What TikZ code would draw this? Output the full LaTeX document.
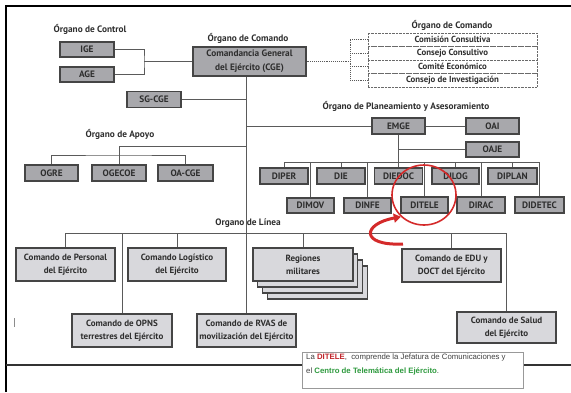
\documentclass[tikz,border=0pt]{standalone}
\usepackage{fontspec}
\setmainfont{PT Sans}
\newfontfamily\notef{Liberation Sans}
\usetikzlibrary{shapes.geometric,arrows.meta,calc}
\definecolor{boxgray}{HTML}{A8A8AC}
\definecolor{lightbox}{HTML}{D8D8DC}
\definecolor{edge}{HTML}{454545}
\definecolor{txt}{HTML}{2E2E2E}
\definecolor{wire}{HTML}{5A5A5A}
\definecolor{redmark}{HTML}{D42A2A}
\definecolor{notered}{HTML}{C0242A}
\definecolor{notegreen}{HTML}{2E9A3E}
\begin{document}
\begin{tikzpicture}[x=1pt,y=-1pt,
  gbox/.style={draw=edge, line width=1.1pt, fill=boxgray, inner sep=0pt, text=txt,
    font=\bfseries\fontsize{9.3}{10}\selectfont},
  sbox/.style={gbox, minimum width=54pt, minimum height=16pt},
  dirbox/.style={gbox, minimum width=48pt, minimum height=16pt},
  lbox/.style={draw=edge, line width=1.1pt, fill=lightbox, inner sep=0pt, align=center,
    minimum width=99pt, minimum height=33pt, text=txt,
    font=\bfseries\fontsize{9}{13}\selectfont},
  dbox/.style={draw=edge!80, densely dotted, fill=white, inner sep=0pt, minimum width=169pt,
    minimum height=13.5pt, text=txt, font=\bfseries\fontsize{8.8}{9}\selectfont},
  title/.style={font=\bfseries\fontsize{9.3}{11}\selectfont, text=txt},
  wire/.style={draw=wire, line width=0.9pt},
  dwire/.style={draw=wire, line width=0.9pt, densely dotted}]
\useasboundingbox (0,0) rectangle (571,392);
% frame
\draw[black, line width=2pt] (6,392) -- (6,6) -- (571,6);
\draw[black!80, line width=1.2pt] (6,365) -- (571,365);
\draw[black!45, line width=0.6pt] (14,318) -- (14,327);

% titles
\node[title] (tctl) at (90,29) {Órgano de Control};
\node[title] (tcmd) at (248,38) {Órgano de Comando};
\node[title] (tcmd2) at (452,25) {Órgano de Comando};
\node[title] (tplan) at (406,106) {Órgano de Planeamiento y Asesoramiento};
\node[title] (tapo) at (120,134) {Órgano de Apoyo};
\node[title] (tlin) at (248,223) {Organo de Línea};

% command
\node[gbox, minimum width=113pt, minimum height=29pt, align=center,
  font=\bfseries\fontsize{9.3}{14}\selectfont] (cge) at (249.5,61.5) {Comandancia General\\del Ejército (CGE)};
\node[sbox, minimum height=15pt] (ige) at (87,49.5) {IGE};
\node[sbox, minimum height=15pt] (age) at (87,74.5) {AGE};
\node[sbox] (sgcge) at (154,99.5) {SG-CGE};

\node[dbox] (d1) at (452.5,39.75) {Comisión Consultiva};
\node[dbox] (d2) at (452.5,53.25) {Consejo Consultivo};
\node[dbox] (d3) at (452.5,66.75) {Comité Económico};
\node[dbox] (d4) at (452.5,80.25) {Consejo de Investigación};

% apoyo
\node[sbox, minimum width=53pt] (ogre) at (51.5,173) {OGRE};
\node[sbox] (ogecoe) at (119,173) {OGECOE};
\node[sbox, minimum width=55pt] (oacge) at (185.5,173) {OA-CGE};

% planeamiento
\node[sbox, minimum width=53pt] (emge) at (398.5,126) {EMGE};
\node[sbox, minimum width=53pt] (oai) at (492.5,126) {OAI};
\node[sbox, minimum width=53pt, minimum height=15pt] (oaje) at (492.5,149.5) {OAJE};
\node[dirbox] (diper) at (284,176) {DIPER};
\node[dirbox] (die) at (341,176) {DIE};
\node[dirbox] (diedoc) at (398.5,176) {DIEDOC};
\node[dirbox, minimum width=47pt] (dilog) at (455.5,176) {DILOG};
\node[dirbox, minimum width=49pt] (diplan) at (512.5,176) {DIPLAN};
\node[dirbox, minimum width=47pt, minimum height=15pt] (dimov) at (310.5,205.5) {DIMOV};
\node[dirbox, minimum width=47pt, minimum height=15pt] (dinfe) at (367.5,205.5) {DINFE};
\node[dirbox, minimum width=47pt] (ditele) at (424.5,205) {DITELE};
\node[dirbox] (dirac) at (481,205) {DIRAC};
\node[dirbox, minimum width=49pt] (didetec) at (539.5,205) {DIDETEC};

% linea
\node[lbox] (personal) at (65.5,264.5) {Comando de Personal\\del Ejército};
\node[lbox, minimum width=98pt] (logistico) at (177,264.5) {Comando Logístico\\del Ejército};
\foreach \d in {3,2,1}
  \draw[draw=edge, fill=lightbox, line width=1.1pt] ({253+\d*4.7},{248+\d*6}) rectangle +(100,33);
\node[lbox, minimum width=100pt] (regiones) at (303,264.5) {Regiones\\militares};
\node[lbox] (edu) at (451.5,265.5) {Comando de EDU y\\DOCT del Ejército};
\node[lbox, minimum width=100pt] (opns) at (122,330.5) {Comando de OPNS\\terrestres del Ejército};
\node[lbox] (rvas) at (246.5,330.5) {Comando de RVAS de\\movilización del Ejército};
\node[lbox, minimum height=31pt] (salud) at (506.5,327.5) {Comando de Salud\\del Ejército};

% connectors: control
\coordinate (cj) at (144,61.5);
\draw[wire] (ige.east) -| (cj) |- (age.east);
\draw[wire] (cj) -- (cge.west);
% trunk
\draw[wire] (cge.south -| rvas.north) -- (rvas.north);
\draw[wire] (sgcge.east) -- (sgcge.east -| rvas.north);
\draw[wire] (emge.west) -- (emge.west -| rvas.north);
% apoyo
\coordinate (apy) at (246.5,146);
\coordinate (apb) at (119,155);
\draw[wire] (apy) -| (ogecoe.north);
\draw[wire] (ogre.north) |- (apb) -| (oacge.north);
% planeamiento
\draw[wire] (emge.east) -- (oai.west);
\coordinate (dr) at (0,162);
\draw[wire] (emge.south) -- (diedoc.north);
\draw[wire] (oaje.west) -- (oaje.west -| emge.south);
\draw[wire] (diper.north) -- (diper.north |- dr) -- (didetec.north |- dr) -- (didetec.north);
\foreach \n in {die,dilog,diplan,dimov,dinfe,ditele,dirac}
  \draw[wire] (\n.north) -- (\n.north |- dr);
% linea
\coordinate (lr) at (0,233);
\draw[wire] (personal.north) -- (personal.north |- lr) -- (salud.north |- lr) -- (salud.north);
\foreach \n in {logistico,regiones,edu,opns}
  \draw[wire] (\n.north) -- (\n.north |- lr);
% dotted consultative
\coordinate (dj) at (350,61.5);
\draw[dwire] (cge.east) -- (dj);
\draw[dwire] (d1.west -| dj) -- (d4.west -| dj);
\foreach \n in {d1,d2,d3,d4}
  \draw[dwire] (\n.west -| dj) -- (\n.west);

% red highlight
\node[draw=redmark, line width=1.6pt, ellipse, minimum width=64pt, minimum height=60pt] (circ) at (424,195) {};
\coordinate (arrs) at (403,244);
\draw[redmark, line width=3pt, -{Triangle[length=7pt,width=9pt]}]
  (arrs) .. controls (360,246) and (362,224) .. (circ.south west);

% note
\node[anchor=north west, draw=black!40, fill=white, line width=0.8pt, minimum width=221pt,
  minimum height=36pt, inner sep=0pt] (note) at (302,352) {};
\node[anchor=north west, align=left, inner sep=0pt, text=black!75,
  font=\notef\fontsize{7.8}{14}\selectfont] (notetxt) at (306,354)
  {La \textcolor{notered}{\textbf{DITELE}}, \ comprende la Jefatura de Comunicaciones y\\
   el \textcolor{notegreen}{\textbf{Centro de Telemática del Ejército}}.};
\end{tikzpicture}
\end{document}
